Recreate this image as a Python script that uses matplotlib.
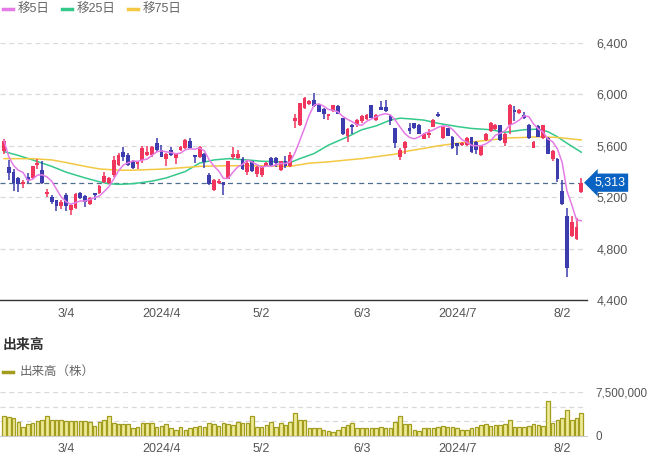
import pandas as pd
import matplotlib
matplotlib.use("Agg")
import matplotlib.pyplot as plt
from matplotlib.lines import Line2D
from matplotlib.transforms import blended_transform_factory

plt.rcParams['font.family'] = ['Liberation Sans', 'Noto Sans CJK JP', 'DejaVu Sans']

# daily candles, 2024/2/13 .. 2024/8/8
opens = [5560, 5435, 5400, 5350, 5300, 5360, 5350, 5450, 5410, 5225,
         5200, 5175, 5130, 5220, 5100, 5115, 5235, 5210, 5145, 5230,
         5230, 5315, 5310, 5375, 5450, 5555, 5530, 5480, 5460, 5490,
         5530, 5525, 5620, 5565, 5500, 5565, 5505, 5565, 5580, 5640,
         5525, 5510, 5540, 5375, 5255, 5310, 5315, 5345, 5510, 5505,
         5500, 5400, 5480, 5380, 5375, 5445, 5505, 5505, 5410, 5480,
         5440, 5790, 5760, 5895, 5925, 5955, 5915, 5890, 5835, 5870,
         5910, 5815, 5680, 5760, 5760, 5790, 5810, 5915, 5800, 5905,
         5905, 5830, 5735, 5510, 5580, 5740, 5775, 5765, 5655, 5685,
         5750, 5850, 5660, 5735, 5670, 5620, 5610, 5610, 5665, 5630,
         5525, 5645, 5715, 5730, 5760, 5620, 5760, 5880, 5855, 5840,
         5765, 5585, 5755, 5660, 5660, 5500, 5500, 5250, 5050, 4895,
         4875, 5240]
closes = [5640, 5390, 5310, 5300, 5320, 5330, 5440, 5470, 5310, 5240,
          5160, 5130, 5165, 5130, 5140, 5225, 5195, 5160, 5190, 5215,
          5290, 5365, 5350, 5490, 5530, 5515, 5450, 5425, 5475, 5580,
          5555, 5590, 5565, 5515, 5540, 5530, 5540, 5590, 5645, 5580,
          5510, 5590, 5475, 5300, 5335, 5325, 5295, 5480, 5540, 5540,
          5420, 5465, 5405, 5435, 5440, 5470, 5450, 5470, 5480, 5440,
          5530, 5820, 5930, 5975, 5950, 5910, 5865, 5845, 5845, 5915,
          5850, 5690, 5730, 5750, 5800, 5830, 5840, 5820, 5840, 5880,
          5870, 5790, 5620, 5570, 5630, 5715, 5735, 5695, 5695, 5700,
          5800, 5830, 5750, 5680, 5580, 5600, 5625, 5660, 5550, 5565,
          5605, 5695, 5780, 5765, 5645, 5695, 5915, 5865, 5880, 5815,
          5660, 5630, 5670, 5760, 5540, 5560, 5345, 5145, 4650, 5010,
          4965, 5313]
highs = [5650, 5490, 5420, 5360, 5330, 5390, 5445, 5500, 5480, 5265,
         5215, 5180, 5175, 5230, 5145, 5230, 5240, 5215, 5200, 5235,
         5295, 5395, 5360, 5520, 5545, 5590, 5545, 5490, 5480, 5600,
         5600, 5600, 5660, 5610, 5545, 5590, 5545, 5600, 5650, 5660,
         5530, 5600, 5545, 5390, 5340, 5340, 5320, 5485, 5590, 5570,
         5510, 5490, 5485, 5440, 5445, 5475, 5510, 5510, 5485, 5520,
         5550, 5850, 5935, 5980, 5960, 6010, 5925, 5895, 5850, 5920,
         5915, 5820, 5735, 5770, 5810, 5840, 5845, 5920, 5850, 5950,
         5960, 5840, 5740, 5580, 5640, 5780, 5780, 5770, 5700, 5730,
         5810, 5865, 5755, 5740, 5680, 5625, 5630, 5665, 5670, 5640,
         5610, 5700, 5785, 5770, 5765, 5700, 5925, 5910, 5885, 5860,
         5770, 5640, 5760, 5765, 5665, 5565, 5505, 5330, 5115, 5050,
         5040, 5350]
lows = [5540, 5335, 5250, 5240, 5270, 5310, 5340, 5420, 5305, 5200,
        5145, 5090, 5110, 5090, 5060, 5110, 5185, 5125, 5140, 5180,
        5225, 5310, 5300, 5360, 5440, 5480, 5445, 5420, 5420, 5470,
        5520, 5515, 5550, 5510, 5440, 5520, 5455, 5560, 5575, 5575,
        5470, 5505, 5430, 5295, 5250, 5300, 5220, 5340, 5500, 5495,
        5410, 5370, 5400, 5360, 5355, 5440, 5445, 5435, 5405, 5430,
        5435, 5740, 5755, 5890, 5920, 5905, 5860, 5810, 5800, 5865,
        5845, 5685, 5630, 5690, 5750, 5780, 5800, 5815, 5795, 5875,
        5865, 5760, 5580, 5490, 5540, 5690, 5730, 5690, 5650, 5660,
        5745, 5825, 5655, 5675, 5575, 5530, 5600, 5600, 5545, 5540,
        5520, 5640, 5710, 5725, 5640, 5600, 5690, 5790, 5850, 5810,
        5655, 5580, 5665, 5655, 5535, 5480, 5320, 5140, 4580, 4890,
        4870, 5230]

# volume in millions of shares
volume_m = [3.46, 3.3, 3.1, 2.4, 1.6, 2.0, 2.2, 2.6, 2.7, 3.4,
            2.8, 2.8, 2.7, 2.6, 2.55, 2.5, 2.5, 2.6, 2.4, 1.7,
            2.45, 2.8, 3.4, 2.15, 2.0, 2.0, 2.0, 1.3, 1.6, 2.15,
            2.15, 2.3, 1.6, 1.7, 2.0, 1.3, 1.0, 1.6, 1.1, 1.3,
            1.5, 1.7, 1.6, 2.3, 2.0, 1.75, 2.3, 2.0, 1.9, 2.45,
            2.3, 2.3, 3.4, 1.6, 1.6, 1.9, 2.45, 1.5, 2.15, 1.9,
            2.45, 3.9, 2.8, 2.7, 1.4, 1.4, 1.3,
            1.0, 0.9, 0.75, 1.0, 1.5, 1.9, 2.15, 1.4, 1.4, 1.4,
            1.4, 1.3, 1.45, 1.3, 1.3, 2.45, 3.4, 2.0, 2.0, 1.1,
            0.9, 1.4, 1.3, 1.3, 1.6, 1.7, 1.6, 1.6, 1.4, 1.0,
            1.0, 1.3, 1.6, 1.9, 2.0, 1.75, 1.9, 1.9, 2.0, 2.8,
            1.5, 1.5, 1.6, 1.7, 2.0, 1.9, 1.7, 6.0, 2.3, 2.7,
            3.0, 4.4, 2.8, 3.1, 4.0]

# 25 / 75 day moving averages, read at these candle positions
ma25_x = [0, 3, 6, 10, 13, 17, 20, 22, 24, 27, 31, 34, 38, 41, 44, 47, 51, 54, 58, 60,
          62, 65, 68, 72, 75, 78, 81, 83, 85, 88, 91, 95, 98, 102, 105, 109, 112, 114,
          116, 118, 121]
ma25_y = [5555, 5525, 5490, 5440, 5395, 5350, 5320, 5305, 5300, 5305, 5325, 5350, 5400,
          5465, 5490, 5500, 5490, 5480, 5475, 5470, 5500, 5540, 5605, 5670, 5725, 5755,
          5800, 5815, 5810, 5800, 5775, 5750, 5735, 5725, 5705, 5725, 5730, 5710, 5670,
          5620, 5550]
ma75_x = [0, 6, 10, 13, 17, 20, 24, 27, 34, 41, 47, 54, 60, 64, 68, 72, 75, 78, 82, 84,
          88, 91, 95, 98, 102, 105, 109, 112, 116, 121]
ma75_y = [5500, 5500, 5490, 5470, 5440, 5420, 5410, 5410, 5420, 5440, 5445, 5445, 5440,
          5465, 5475, 5490, 5500, 5515, 5535, 5555, 5580, 5600, 5620, 5630, 5645, 5660,
          5665, 5670, 5665, 5645]

tick_pos = [13, 33, 54, 75, 95, 117]
tick_labels = ['3/4', '2024/4', '5/2', '6/3', '2024/7', '8/2']
price_ticks = [4400, 4800, 5200, 5600, 6000, 6400]
last_price = 5313

df = pd.DataFrame({'open': opens, 'close': closes, 'high': highs, 'low': lows,
                   'volume': [v * 1e6 for v in volume_m]})
df['ma5'] = df['close'].rolling(5, min_periods=1).mean()
x = range(len(df))

UP = '#f0365c'
DOWN = '#3c3cae'
C_MA5 = '#e47be6'
C_MA25 = '#34c98a'
C_MA75 = '#f3c843'
TXT = '#555555'

W, H = 650, 457
fig = plt.figure(figsize=(W / 100, H / 100), dpi=100)


def px_axes(x0, y0, x1, y1):
    return fig.add_axes([x0 / W, 1 - y1 / H, (x1 - x0) / W, (y1 - y0) / H])


xlim = (-0.84, 122.2)

# price panel
ax = px_axes(0, 43, 587, 300)
colors = [UP if c >= o else DOWN for o, c in zip(df['open'], df['close'])]
ax.vlines(x, df['low'], df['high'], colors=colors, linewidth=1.1, zorder=3)
body_low = df[['open', 'close']].min(axis=1)
body_h = (df['close'] - df['open']).abs().clip(lower=14)
ax.bar(x, body_h, bottom=body_low, width=0.8, color=colors, zorder=4)
ax.plot(x, df['ma5'], color=C_MA5, lw=1.1, zorder=5)
ax.plot(ma25_x, ma25_y, color=C_MA25, lw=1.1, zorder=2)
ax.plot(ma75_x, ma75_y, color=C_MA75, lw=1.1, zorder=2)
ax.axhline(last_price, color='#4d6f8f', lw=0.9, ls=(0, (4, 3)), zorder=1)

ax.set_xlim(*xlim)
ax.set_ylim(4400, 6400)
ax.set_yticks(price_ticks)
ax.set_yticklabels([f'{v:,}' for v in price_ticks])
ax.yaxis.tick_right()
ax.tick_params(axis='y', length=0, pad=7, labelsize=9, labelcolor=TXT)
ax.set_xticks(tick_pos)
ax.set_xticklabels(tick_labels)
ax.tick_params(axis='x', length=0, pad=6, labelsize=9, labelcolor=TXT)
ax.grid(axis='y', color='#d9d9d9', ls=(0, (4, 3)), lw=0.9)
ax.set_axisbelow(True)
for s in ['top', 'left', 'right']:
    ax.spines[s].set_visible(False)
ax.spines['bottom'].set_color('#333333')
ax.spines['bottom'].set_linewidth(1)

tr = blended_transform_factory(ax.transAxes, ax.transData)
ax.text(1.012, last_price, f'{last_price:,}', transform=tr, ha='left', va='center',
        color='white', fontsize=9,
        bbox=dict(boxstyle='larrow,pad=0.25', fc='#0a63c2', ec='none'), zorder=10)

# volume panel
axv = px_axes(0, 392, 587, 436)
axv.bar(x, df['volume'], width=0.75, color='#eeea96', edgecolor='#a29c1f', linewidth=0.9)
axv.set_xlim(*xlim)
axv.set_ylim(0, 7.5e6)
axv.set_yticks([0, 2.5e6, 5e6, 7.5e6])
axv.set_yticklabels(['0', '', '', '7,500,000'])
axv.yaxis.tick_right()
axv.tick_params(axis='y', length=0, pad=6, labelsize=8.4, labelcolor=TXT)
axv.set_xticks(tick_pos)
axv.set_xticklabels(tick_labels)
axv.tick_params(axis='x', length=0, pad=5, labelsize=9, labelcolor=TXT)
axv.grid(axis='y', color='#d9d9d9', ls=(0, (4, 3)), lw=0.9)
axv.set_axisbelow(True)
for s in ['top', 'left', 'right']:
    axv.spines[s].set_visible(False)
axv.spines['bottom'].set_color('#cccccc')

# legends
for (x0, label, col) in [(3, '移5日', C_MA5), (62, '移25日', C_MA25), (128, '移75日', C_MA75)]:
    fig.add_artist(Line2D([x0 / W, (x0 + 10) / W], [1 - 9 / H] * 2, color=col, lw=2.5))
    fig.text((x0 + 15) / W, 1 - 9 / H, label, fontsize=9, color='#666666', va='center')

fig.text(3 / W, 1 - 345 / H, '出来高', fontsize=10, color='#333333', va='center',
         fontweight='bold')
fig.add_artist(Line2D([3 / W, 13 / W], [1 - 372 / H] * 2, color='#a29c1f', lw=2.5))
fig.text(20 / W, 1 - 372 / H, '出来高（株）', fontsize=9, color='#666666', va='center')

fig.savefig('out.png', dpi=100)
